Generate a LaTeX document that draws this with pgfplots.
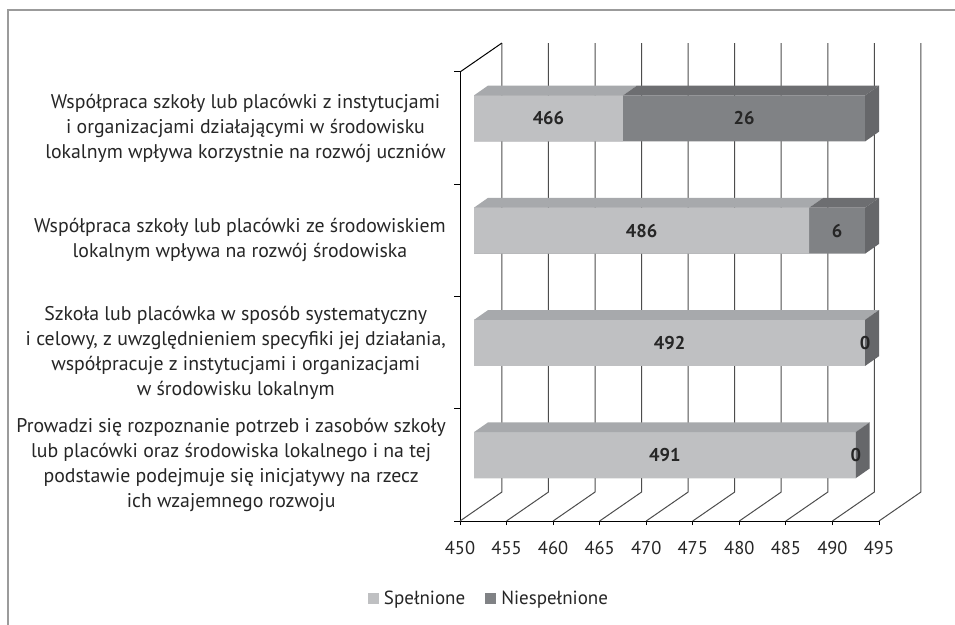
\documentclass[border=0pt]{standalone}
\usepackage{pgfplots}
\pgfplotsset{compat=1.18}
\usepackage{pgfplotstable}
\usepackage{fontspec}
\setmainfont{PT Sans}
\definecolor{lightF}{HTML}{BFC0C2}
\definecolor{lightT}{HTML}{A7A9AC}
\definecolor{darkF}{HTML}{808285}
\definecolor{darkT}{HTML}{6D6E71}
\definecolor{darkS}{HTML}{66676A}
\definecolor{gridc}{HTML}{4D4D4D}
\definecolor{framec}{HTML}{9B9B9B}
\definecolor{txt}{HTML}{262626}

\pgfplotstableread{
y s n
0.5 491 0
1.5 492 0
2.5 486 6
3.5 466 26
}\data

\begin{document}
\begin{tikzpicture}[x=1pt,y=1pt]
\useasboundingbox (0,0) rectangle (955,624);
\fill[white] (0,0) rectangle (955,624);
\draw[framec, line width=2pt] (8,-2) -- (8,614) -- (957,614);

\begin{axis}[at={(460pt,103pt)}, anchor=south west, scale only axis,
  width=419pt, height=449pt,
  xmin=450, xmax=495, ymin=0, ymax=4, clip=false,
  axis x line*=bottom, axis y line*=left,
  axis line style={black, line width=1pt},
  xtick={450,455,...,495},
  ytick={0.5,1.5,2.5,3.5},
  yticklabels={
    {Prowadzi się rozpoznanie potrzeb i zasobów szkoły\\lub placówki oraz środowiska lokalnego i na tej\\podstawie podejmuje się inicjatywy na rzecz\\ich wzajemnego rozwoju},
    {Szkoła lub placówka w sposób systematyczny\\i celowy, z uwzględnieniem specyfiki jej działania,\\współpracuje z instytucjami i organizacjami\\w środowisku lokalnym},
    {Współpraca szkoły lub placówki ze środowiskiem\\lokalnym wpływa na rozwój środowiska},
    {Współpraca szkoły lub placówki z instytucjami\\i organizacjami działającymi w środowisku\\lokalnym wpływa korzystnie na rozwój uczniów}},
  ytick style={draw=none},
  xtick style={black, line width=1pt},
  tick align=outside, major tick length=4pt,
  /pgf/number format/assume math mode=true,
  xticklabel style={font=\fontsize{18.5}{22}\selectfont, text=txt, inner sep=0pt, yshift=-16pt},
  yticklabel style={font=\fontsize{19.8}{25}\selectfont, text=txt, align=center, inner sep=0pt, xshift=-10pt},
  legend style={at={(0.0692,-0.1715)}, anchor=center, draw=none, fill=none,
    font=\fontsize{19}{22}\selectfont, text=txt, legend columns=2,
    /tikz/every odd column/.append style={column sep=3pt},
    /tikz/every even column/.append style={column sep=18pt}},
  legend image code/.code={\fill[#1] (0pt,-5.5pt) rectangle (11pt,5.5pt);},
]
\addlegendimage{fill=lightF, draw=none}\addlegendentry{Spełnione}
\addlegendimage{fill=darkF, draw=none}\addlegendentry{Niespełnione}
% back wall and floor grid
\pgfplotsinvokeforeach{450,455,...,495}{
  \pgfmathsetmacro\bx{#1+4.5}
  \edef\temp{\noexpand\draw[gridc, line width=1pt] (axis cs:#1,0) -- (axis cs:\bx,0.258) -- (axis cs:\bx,4.258);}
  \temp
}
\draw[black, line width=1pt] (axis cs:450,4) -- (axis cs:454.5,4.258);
\pgfplotsinvokeforeach{0,1,2,3,4}{
  \draw[black, line width=1pt] (axis cs:450,#1) -- ([xshift=-6pt]axis cs:450,#1);
}
\end{axis}

\begin{axis}[at={(474pt,112.7pt)}, anchor=south west, scale only axis,
  width=419pt, height=449pt,
  xmin=450, xmax=495, ymin=0, ymax=4, hide axis, clip=true,
  every node near coord/.append style={anchor=center, font=\bfseries\fontsize{18.5}{22}\selectfont, text=txt},
]
\addplot[xbar, bar shift=0pt, bar width=46pt, fill=darkF, draw=none] table[x expr=\thisrow{s}+\thisrow{n}, y=y] {\data};
\addplot[xbar, bar shift=0pt, bar width=46pt, fill=lightF, draw=none] table[x=s, y=y] {\data};
\pgfplotsinvokeforeach{0,1,2,3}{
  \pgfplotstablegetelem{#1}{s}\of\data \let\sv\pgfplotsretval
  \pgfplotstablegetelem{#1}{n}\of\data \let\nv\pgfplotsretval
  \pgfmathsetmacro\tv{\sv+\nv}
  \pgfmathsetmacro\svb{\sv+1.5}
  \pgfmathsetmacro\tvb{\tv+1.5}
  \pgfmathsetmacro\yt{#1+0.5+0.205}
  \pgfmathsetmacro\yb{#1+0.5-0.205}
  \pgfmathsetmacro\yd{\yt+0.087}
  \pgfmathsetmacro\ybd{\yb+0.087}
  \edef\temp{
    \noexpand\fill[lightT] (axis cs:450,\yt) -- (axis cs:\sv,\yt) -- (axis cs:\svb,\yd) -- (axis cs:451.5,\yd) -- cycle;
    \noexpand\fill[darkT] (axis cs:\sv,\yt) -- (axis cs:\tv,\yt) -- (axis cs:\tvb,\yd) -- (axis cs:\svb,\yd) -- cycle;
    \noexpand\fill[darkS] (axis cs:\tv,\yb) -- (axis cs:\tv,\yt) -- (axis cs:\tvb,\yd) -- (axis cs:\tvb,\ybd) -- cycle;
  }
  \temp
}
\addplot[draw=none, mark=none, nodes near coords, point meta=explicit symbolic]
  table[x expr=(450+\thisrow{s})/2, y=y, meta=s] {\data};
\addplot[draw=none, mark=none, nodes near coords, point meta=explicit symbolic]
  table[x expr=\thisrow{s}+\thisrow{n}/2, y=y, meta=n] {\data};
\end{axis}
\end{tikzpicture}
\end{document}
